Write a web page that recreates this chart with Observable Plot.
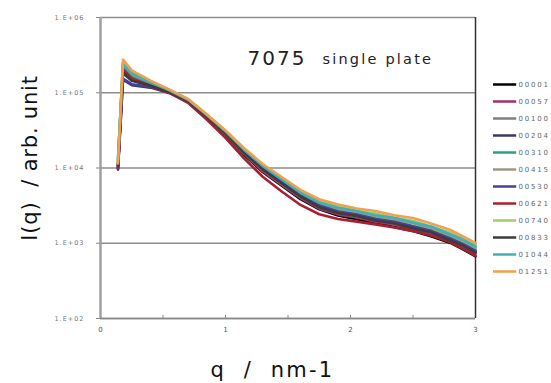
<!DOCTYPE html>
<html>
<head>
<meta charset="utf-8">
<script src="https://cdn.jsdelivr.net/npm/d3@7"></script>
<script src="https://cdn.jsdelivr.net/npm/@observablehq/plot@0.6"></script>
<style>
  html, body { margin: 0; padding: 0; background: #fff; }
  #wrap { position: relative; width: 551px; height: 383px; overflow: hidden; }
  #legend { position: absolute; left: 490px; top: 72px; }
  svg { font-family: "DejaVu Sans", sans-serif; }
  svg text { white-space: pre; }
  #legend text { letter-spacing: 1.8px; }
</style>
</head>
<body>
<div id="wrap"><div id="main"></div><div id="legend"></div></div>
<script>
// ---- data ----
const q = [0.14, 0.18, 0.25, 0.4, 0.55, 0.7, 0.85, 1.0, 1.15, 1.3, 1.45, 1.6, 1.75, 1.9, 2.05, 2.2, 2.35, 2.5, 2.65, 2.8, 2.9, 3.0];

const seriesNames = ["00001","00057","00100","00204","00310","00415","00530","00621","00740","00833","01044","01251"];
const seriesColors = ["#000000","#a0306a","#7f7f7f","#3a3a5e","#2aa08a","#9a9a80","#4a3f9a","#a82030","#9bd06a","#3c3c3c","#40b0b0","#f0a050"];

const s00001 = [10000,197000,153000,124000,102000,77000,47000,27400,14900,8800,5800,3850,2820,2340,2080,1860,1640,1460,1230,1010,830,670];
const s00057 = [10500,211000,158000,127000,103000,77400,47500,27700,15300,9000,5940,3980,2880,2420,2200,1930,1780,1530,1330,1050,900,730];
const s00100 = [11000,221000,166000,131000,105000,78200,48000,28300,15800,9400,6200,4150,3040,2560,2270,2050,1810,1630,1390,1120,930,760];
const s00204 = [9800,149000,126000,117000,99500,76600,48500,28900,16100,9600,6340,4240,3100,2580,2300,2080,1850,1620,1420,1110,950,770];
const s00310 = [13500,228000,171000,134000,107000,79000,49000,29200,16400,9900,6600,4370,3230,2690,2470,2140,1970,1700,1500,1180,1000,810];
const s00415 = [12000,240000,176000,137000,107000,79800,50000,30100,17100,10400,6930,4590,3390,2820,2570,2290,2030,1840,1550,1260,1050,860];
const s00530 = [9500,154000,130000,120000,101000,77400,49000,29500,16600,9900,6530,4280,3170,2640,2400,2100,1930,1670,1450,1150,970,790];
const s00621 = [10200,204000,155000,124000,99500,73500,44100,25100,13300,7600,4880,3230,2430,2100,1940,1780,1620,1450,1260,1030,840,680];
const s00740 = [12500,252000,185000,141000,109000,81400,51000,31000,17800,10800,7260,4890,3620,3070,2710,2480,2180,1990,1660,1380,1130,940];
const s00833 = [10800,182000,144000,124000,103000,77400,48000,28600,15900,9500,6270,4150,3010,2530,2300,2010,1830,1580,1390,1090,930,750];
const s01044 = [13000,240000,180000,138000,108000,80600,50500,30700,17400,10600,7060,4720,3490,2960,2690,2350,2180,1890,1660,1310,1120,910];
const s01251 = [11500,276000,198000,145000,111000,83000,51900,31600,18300,11200,7590,5110,3840,3280,2900,2680,2350,2160,1810,1500,1230,1010];

const seriesValues = [s00001,s00057,s00100,s00204,s00310,s00415,s00530,s00621,s00740,s00833,s01044,s01251];

const yTicks = [1e2, 1e3, 1e4, 1e5, 1e6];
const yTickLabels = ["1.E+02","1.E+03","1.E+04","1.E+05","1.E+06"];
const xTicks = [0, 1, 2, 3];
const xTickLabels = ["0","1","2","3"];
const xMinorTicks = [0.5, 1, 1.5, 2, 2.5];

const titleMain = "7075";
const titleSub = "single plate";
const xTitle = "q  /  nm-1";
const yTitle = "I(q)  / arb. unit";

// ---- table ----
const rows = [];
seriesNames.forEach((name, i) => {
  seriesValues[i].forEach((v, j) => rows.push({series: name, q: q[j], I: v}));
});

const color = {domain: seriesNames, range: seriesColors};

const main = Plot.plot({
  width: 551,
  height: 383,
  marginLeft: 100,
  marginRight: 76,
  marginTop: 17,
  marginBottom: 65,
  style: {fontFamily: "DejaVu Sans, sans-serif", background: "#fff"},
  x: {domain: [0, 3]},
  y: {type: "log", domain: [1e2, 1e6]},
  color,
  marks: [
    Plot.gridY(yTicks, {stroke: "#8c8c8c", strokeOpacity: 1, strokeWidth: 1.4}),
    Plot.ruleX([0], {stroke: "#a0a0a0", strokeWidth: 2.5}),
    Plot.ruleX([3], {stroke: "#333", strokeWidth: 1.5}),
    Plot.ruleY([1e2], {stroke: "#888", strokeWidth: 1.5}),
    Plot.axisY(yTicks, {
      tickSize: 4, tickPadding: 12, fontSize: 6.5, fill: "#777", stroke: "#888",
      tickFormat: (d) => yTickLabels[yTicks.indexOf(d)], label: null
    }),
    Plot.axisX(xTicks, {
      tickSize: 0, tickPadding: 9, fontSize: 7, fill: "#555",
      tickFormat: (d) => xTickLabels[xTicks.indexOf(d)], label: null
    }),
    Plot.ruleX(xMinorTicks, {x: (d) => d, y1: 1e2, y2: 110, stroke: "#888", strokeWidth: 1}),
    Plot.line(rows, {x: "q", y: "I", z: "series", stroke: "series", strokeWidth: 2.6, curve: "linear"}),
    Plot.text([titleMain], {frameAnchor: "top-left", dx: 147, dy: 33, fontSize: 20, fill: "#222", textAnchor: "start", lineAnchor: "top", text: (d) => d}),
    Plot.text([titleSub], {frameAnchor: "top-left", dx: 222, dy: 36, fontSize: 14.5, fill: "#222", textAnchor: "start", lineAnchor: "top", text: (d) => d}),
    Plot.text([xTitle], {frameAnchor: "bottom-left", dx: 110, dy: 52, fontSize: 21, fill: "#111", textAnchor: "start", lineAnchor: "middle", text: (d) => d}),
    Plot.text([yTitle], {frameAnchor: "left", dx: -70, dy: -10, rotate: -90, fontSize: 21, fill: "#111", textAnchor: "middle", lineAnchor: "middle", text: (d) => d})
  ]
});
// letter spacing of the wide original font
const textGroups = main.querySelectorAll('g[aria-label="text"]');
const spacings = ["2px", "2.2px", "2.2px", "0.8px"];
textGroups.forEach((g, i) => { if (spacings[i]) g.style.letterSpacing = spacings[i]; });
const yLabels = main.querySelector('g[aria-label="y-axis tick label"]');
if (yLabels) yLabels.style.letterSpacing = "1px";
document.getElementById("main").appendChild(main);

const legend = Plot.plot({
  width: 61,
  height: 210,
  marginTop: 9,
  marginBottom: 9,
  marginLeft: 3,
  marginRight: 0,
  style: {fontFamily: "DejaVu Sans, sans-serif", background: "transparent"},
  x: {domain: [0, 1], axis: null},
  y: {type: "point", domain: seriesNames, padding: 0, axis: null},
  color,
  marks: [
    Plot.ruleY(seriesNames, {y: (d) => d, x1: 0, x2: 0.4, stroke: (d) => d, strokeWidth: 2.5}),
    Plot.text(seriesNames, {y: (d) => d, x: 0.43, text: (d) => d, textAnchor: "start", fontSize: 7, fill: "#666"})
  ]
});
document.getElementById("legend").appendChild(legend);
</script>
</body>
</html>
